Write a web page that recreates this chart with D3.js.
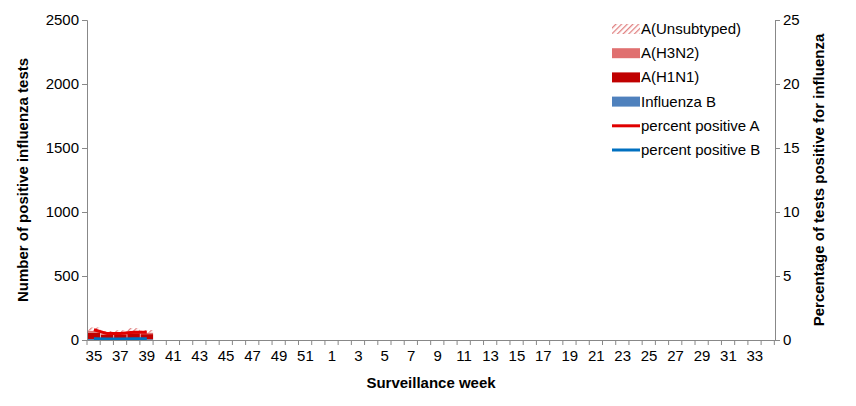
<!DOCTYPE html>
<html><head><meta charset="UTF-8">
<script src="https://d3js.org/d3.v7.min.js"></script>
<style>body{margin:0;background:#fff;font-family:Arial,"Liberation Sans",sans-serif}</style>
</head><body><div id="c"></div>
<script>
const weeks = [35,36,37,38,39,40,41,42,43,44,45,46,47,48,49,50,51,52,1,2,3,4,5,6,7,8,9,10,11,12,13,14,15,16,17,18,19,20,21,22,23,24,25,26,27,28,29,30,31,32,33,34];
const fluB   = [8,5,6,8,6];
const h1n1   = [50,35,38,45,40];
const h3n2   = [15,12,12,15,12];
const unsub  = [25,18,20,25,20];
const pctA   = [0.8,0.5,0.5,0.6,0.6];
const pctB   = [0.1,0.08,0.08,0.1,0.1];
const leftTicks = [0,500,1000,1500,2000,2500];
const rightTicks = [0,5,10,15,20,25];

const w = 856, h = 406;
const m = {l:87, r:81, t:20, b:66};
const svg = d3.select("#c").append("svg").attr("width", w).attr("height", h);
const defs = svg.append("defs");
const pat = defs.append("pattern").attr("id","hatch").attr("patternUnits","userSpaceOnUse")
  .attr("width",4).attr("height",4).attr("patternTransform","rotate(45)");
pat.append("rect").attr("width",4).attr("height",4).attr("fill","#fff");
pat.append("line").attr("x1",0).attr("y1",0).attr("x2",0).attr("y2",4).attr("stroke","#e08080").attr("stroke-width",2.5);

const x = d3.scaleBand().domain(weeks.map(String)).range([m.l, w-m.r]).padding(0.05);
const y = d3.scaleLinear().domain([0,2500]).range([h-m.b, m.t]);
const y2 = d3.scaleLinear().domain([0,25]).range([h-m.b, m.t]);

const series = [
  {name:"Influenza B", vals:fluB, fill:"#4f81bd"},
  {name:"A(H1N1)", vals:h1n1, fill:"#c00000"},
  {name:"A(H3N2)", vals:h3n2, fill:"#e07070"},
  {name:"A(Unsubtyped)", vals:unsub, fill:"url(#hatch)"}
];
fluB.forEach((_, i) => {
  let base = 0;
  series.forEach(s => {
    const v = s.vals[i];
    svg.append("rect").attr("x", x(String(weeks[i]))).attr("width", x.bandwidth())
      .attr("y", y(base+v)).attr("height", y(base)-y(base+v)).attr("fill", s.fill);
    base += v;
  });
});

const line = d3.line().x((d,i)=>x(String(weeks[i]))+x.bandwidth()/2).y(d=>y2(d));
svg.append("path").datum(pctA).attr("d", line).attr("fill","none").attr("stroke","#e00000").attr("stroke-width",3);
svg.append("path").datum(pctB).attr("d", line).attr("fill","none").attr("stroke","#0070c0").attr("stroke-width",3);

const xa = svg.append("g").attr("transform",`translate(0,${h-m.b})`)
  .call(d3.axisBottom(x).tickSize(0).tickFormat((d,i)=> i%2===0 ? d : ""));
xa.selectAll("text").attr("dy","1.2em").style("font-size","15px").style("font-family","Arial");
xa.select(".domain").attr("stroke","#888");
weeks.concat(["end"]).forEach((d,i)=>{
  const xx = m.l + i*x.step();
  svg.append("line").attr("x1",xx).attr("x2",xx).attr("y1",h-m.b).attr("y2",h-m.b+5).attr("stroke","#888");
});
const ya = svg.append("g").attr("transform",`translate(${m.l},0)`)
  .call(d3.axisLeft(y).tickValues(leftTicks).tickSize(5).tickFormat(d3.format("d")));
const ya2 = svg.append("g").attr("transform",`translate(${w-m.r},0)`)
  .call(d3.axisRight(y2).tickValues(rightTicks).tickSize(5));
[ya, ya2].forEach(a => {
  a.selectAll("text").style("font-size","15px").style("font-family","Arial");
  a.selectAll("line,.domain").attr("stroke","#888");
});

svg.append("text").attr("x",(m.l+w-m.r)/2).attr("y",388).attr("text-anchor","middle")
  .style("font-weight","bold").style("font-size","15px").text("Surveillance  week");
svg.append("text").attr("transform",`translate(28,${(m.t+h-m.b)/2}) rotate(-90)`).attr("text-anchor","middle")
  .style("font-weight","bold").style("font-size","15px").text("Number of positive influenza tests");
svg.append("text").attr("transform",`translate(824,${(m.t+h-m.b)/2}) rotate(-90)`).attr("text-anchor","middle")
  .style("font-weight","bold").style("font-size","15px").text("Percentage of tests positive for influenza");

const leg = [
  {t:"A(Unsubtyped)", f:"url(#hatch)"},
  {t:"A(H3N2)", f:"#e07070"},
  {t:"A(H1N1)", f:"#c00000"},
  {t:"Influenza B", f:"#4f81bd"},
  {t:"percent positive A", l:"#e00000"},
  {t:"percent positive B", l:"#0070c0"}
];
leg.forEach((d,i)=>{
  const yy = 29 + i*24.2;
  if (d.f) svg.append("rect").attr("x",612).attr("y",yy-5).attr("width",28).attr("height",10).attr("fill",d.f);
  else svg.append("line").attr("x1",612).attr("x2",640).attr("y1",yy).attr("y2",yy).attr("stroke",d.l).attr("stroke-width",3);
  svg.append("text").attr("x",641).attr("y",yy+5).style("font-size","15px").text(d.t);
});
</script></body></html>
